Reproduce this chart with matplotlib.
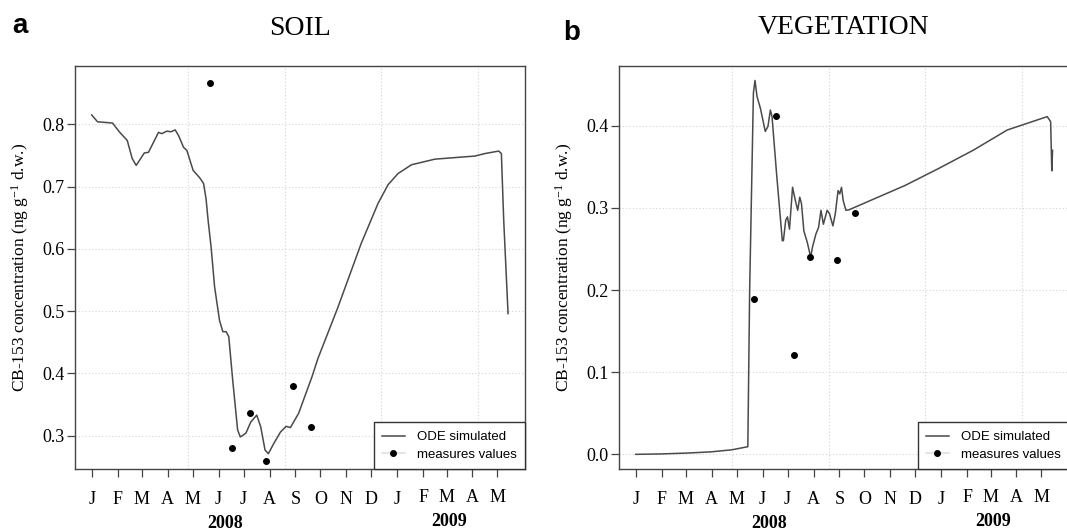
import numpy as np
import matplotlib
matplotlib.use('Agg')
from matplotlib import pyplot as plt
from matplotlib.lines import Line2D
from matplotlib.transforms import blended_transform_factory

# %% data -- x in days since 2008-01-01
soil_days = [0, 7, 25, 33, 42.6, 48.5, 53.3, 63, 68, 80, 84, 90, 95, 100, 104,
             110, 114, 121.5, 129.4, 134, 137, 139.5, 143, 147.2, 153.1, 157.1,
             161, 164.2, 168.9, 174.8, 178, 184.7, 190.6, 197.7, 202.5, 207.6,
             211.6, 218.3, 226.2, 232.9, 238, 247.9, 263.7, 271, 294.6, 322.9,
             343, 355, 367, 383, 411, 459, 471, 487.5, 490.7, 493.5, 498.7]
soil_sim = [0.815, 0.804, 0.802, 0.788, 0.774, 0.745, 0.734, 0.754, 0.755,
            0.787, 0.785, 0.789, 0.788, 0.791, 0.782, 0.763, 0.758, 0.726,
            0.714, 0.705, 0.680, 0.645, 0.603, 0.539, 0.485, 0.467, 0.467,
            0.459, 0.389, 0.309, 0.298, 0.304, 0.322, 0.333, 0.314, 0.277,
            0.271, 0.288, 0.306, 0.315, 0.313, 0.336, 0.394, 0.424, 0.505,
            0.609, 0.673, 0.703, 0.721, 0.735, 0.744, 0.749, 0.753, 0.757,
            0.753, 0.646, 0.496]

veg_days = [0, 30, 60, 90, 115, 134.3, 136.5, 141, 142.9, 145.3, 149.4, 155.2,
            158.4, 161.3, 163.3, 168.7, 175.6, 176.9, 179.7, 181.8, 184.2,
            187.9, 191.2, 194.1, 196.5, 198.6, 201.4, 205.5, 209.6, 211.7,
            215.8, 219, 221.9, 224.8, 229.3, 232.1, 236.2, 239.1, 242.4, 244.4,
            246.5, 248.5, 251.8, 255.5, 281.3, 322.2, 363.1, 404.1, 445, 492.9,
            497, 498.4, 499.3]
veg_sim = [0.0, 0.0005, 0.0015, 0.003, 0.0055, 0.0093, 0.20, 0.44, 0.455,
           0.4355, 0.421, 0.393, 0.399, 0.419, 0.411, 0.342, 0.260, 0.260,
           0.285, 0.289, 0.274, 0.325, 0.309, 0.297, 0.313, 0.305, 0.272,
           0.258, 0.240, 0.252, 0.268, 0.276, 0.297, 0.280, 0.297, 0.293,
           0.278, 0.293, 0.321, 0.317, 0.325, 0.309, 0.297, 0.2976, 0.309,
           0.327, 0.348, 0.370, 0.3947, 0.411, 0.405, 0.345, 0.370]

meas_days = [142, 168, 190, 209, 241, 263]
soil_meas = [0.866, 0.280, 0.337, 0.259, 0.380, 0.314]
veg_meas = [0.189, 0.412, 0.121, 0.240, 0.236, 0.294]

grid_days = [0, 115.6, 231.3, 347, 462.6]
month_labels = ['J', 'F', 'M', 'A', 'M', 'J', 'J', 'A', 'S', 'O', 'N', 'D',
                'J', 'F', 'M', 'A', 'M']
years = ['2008', '2009']
year_days = [160, 428]

start = np.datetime64('2008-01-01')
months = np.arange('2008-01', '2009-06', dtype='datetime64[M]')
month_days = (months.astype('datetime64[D]') - start).astype(float)

# %% style
plt.rcParams['font.family'] = ['Liberation Serif', 'DejaVu Serif']
plt.rcParams['mathtext.default'] = 'regular'

W, H = 1067, 532
fig = plt.figure(figsize=(W / 100, H / 100), dpi=100)


def px_axes(left, top, right, bottom):
    return fig.add_axes([left / W, 1 - bottom / H,
                         (right - left) / W, (bottom - top) / H])


def panel(ax, sim_d, sim_v, meas_v, ylim, yticks):
    ax.plot(sim_d, sim_v, color='#4a4a4a', lw=1.1, zorder=3)
    ax.plot(meas_days, meas_v, 'o', color='k', ms=4, zorder=4)
    ax.set_xlim(-20, 519)
    ax.set_ylim(ylim)
    ax.set_yticks(yticks)
    ax.set_yticklabels(['%.1f' % v for v in yticks])
    ax.set_xticks(month_days)
    ax.set_xticklabels([''] * len(month_days))
    ax.set_xticks(grid_days, minor=True)
    ax.tick_params(axis='x', which='minor', length=0)
    ax.tick_params(which='major', direction='out', length=5.5, width=0.9,
                   color='#444444', labelsize=13, pad=2)
    ax.grid(True, which='minor', axis='x', color='#d4d4d4', ls=(0, (1, 2)), lw=0.8)
    ax.grid(True, which='major', axis='y', color='#d4d4d4', ls=(0, (1, 2)), lw=0.8)
    ax.set_axisbelow(True)
    for s in ax.spines.values():
        s.set_color('#444444')
        s.set_linewidth(1.0)
    ax.set_ylabel('CB-153 concentration (ng g$^{-1}$ d.w.)', fontsize=12.5)
    ax.yaxis.label.set_va('center')
    ax.yaxis.set_label_coords(-0.121, 0.5)

    tr = blended_transform_factory(ax.transData, ax.transAxes)
    for i, (d, lab) in enumerate(zip(month_days, month_labels)):
        y = -0.0868 if i < 13 else -0.0803
        ax.text(d, y, lab, transform=tr, ha='center', va='baseline', fontsize=13)
    for d, yr, y in zip(year_days, years, [-0.146, -0.141]):
        ax.text(d, y, yr, transform=tr, ha='center', va='baseline',
                fontsize=13, fontweight='bold')

    handles = [Line2D([], [], color='#4a4a4a', lw=1.1),
               Line2D([], [], color='#dddddd', lw=1.1, marker='o', ms=4,
                      markerfacecolor='k', markeredgecolor='k')]
    leg = ax.legend(handles, ['ODE simulated', 'measures values'],
                    loc='lower right', borderaxespad=0, fancybox=False,
                    framealpha=1, edgecolor='#333333', handlelength=1.7,
                    handletextpad=0.9, labelspacing=0.4, borderpad=0.65,
                    prop={'family': 'Liberation Sans', 'size': 9.5})
    leg.get_frame().set_linewidth(1.0)


ax1 = px_axes(75, 66, 525, 469.3)
panel(ax1, soil_days, soil_sim, soil_meas, (0.246, 0.8936),
      [0.3, 0.4, 0.5, 0.6, 0.7, 0.8])

ax2 = px_axes(619, 66, 1069, 469.3)
panel(ax2, veg_days, veg_sim, veg_meas, (-0.0182, 0.4726),
      [0.0, 0.1, 0.2, 0.3, 0.4])

fig.text(300 / W, 1 - 35 / H, 'SOIL', ha='center', va='baseline', fontsize=20)
fig.text(844 / W, 1 - 34.3 / H, 'VEGETATION', ha='center', va='baseline', fontsize=20)
fig.text(12 / W, 1 - 33.3 / H, 'a', ha='left', va='baseline', fontsize=20,
         fontweight='bold', family='Liberation Sans')
fig.text(563 / W, 1 - 40 / H, 'b', ha='left', va='baseline', fontsize=20,
         fontweight='bold', family='Liberation Sans')

fig.savefig('out.png', dpi=100)
